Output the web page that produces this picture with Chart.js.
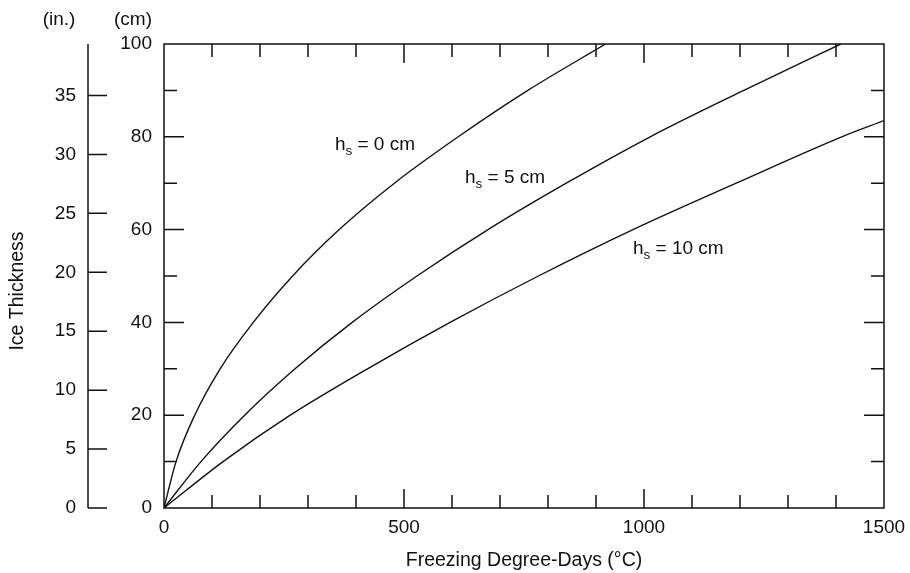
<!DOCTYPE html>
<html>
<head>
<meta charset="utf-8">
<script src="https://cdn.jsdelivr.net/npm/chart.js@4/dist/chart.umd.min.js"></script>
<style>
html,body{margin:0;padding:0;background:#fff;}
#wrap{width:910px;height:573px;position:relative;}
</style>
</head>
<body>
<div id="wrap"><canvas id="c" width="910" height="573"></canvas></div>
<script>
// ---- data ----
const snowDepths = ['0', '5', '10'];           // h_s (cm)
const fddHs0  = [0, 25, 64, 117, 186, 268, 365, 480, 613, 758, 920];
const iceHs0  = [0, 10, 20, 30, 40, 50, 60, 70, 80, 90, 100];
const fddHs5  = [0, 77, 168, 273, 392, 527, 675, 838, 1013, 1208, 1410];
const iceHs5  = [0, 10, 20, 30, 40, 50, 60, 70, 80, 90, 100];
const fddHs10 = [0, 123, 263, 424, 596, 780, 977, 1192, 1412, 1500];
const iceHs10 = [0, 10, 20, 30, 40, 50, 60, 70, 80, 83.5];
const xTickLabels = [0, 500, 1000, 1500];
const cmTickLabels = [0, 20, 40, 60, 80, 100];
const inTickLabels = [0, 5, 10, 15, 20, 25, 30, 35];

// label anchor (data coords) for curve annotations
const labelAnchorFdd = [356, 627, 977];
const labelAnchorIce = [77.2, 70.1, 54.7];

const FONT = '"Liberation Sans", Arial, Helvetica, sans-serif';
const INK = '#111';
const FS = 19;

function pts(xs, ys){ return xs.map((x,i)=>({x:x, y:ys[i]})); }

const series = [pts(fddHs0, iceHs0), pts(fddHs5, iceHs5), pts(fddHs10, iceHs10)];

const decor = {
  id: 'decor',
  afterDraw(chart){
    const {ctx, chartArea:a, scales} = chart;
    const xs = scales.x, ys = scales.y, yi = scales.yIn;
    ctx.save();
    ctx.strokeStyle = INK;
    ctx.lineWidth = 1.5;
    ctx.lineCap = 'butt';
    // frame
    ctx.strokeRect(a.left, a.top, a.right - a.left, a.bottom - a.top);
    // inch axis line
    const xi = yi.right;
    ctx.beginPath(); ctx.moveTo(xi, a.top); ctx.lineTo(xi, a.bottom); ctx.stroke();
    ctx.beginPath();
    // x ticks (bottom & top), inward
    for (let v = 100; v < 1500; v += 100){
      const px = xs.getPixelForValue(v);
      const len = (v % 500 === 0) ? 19 : 13;
      ctx.moveTo(px, a.bottom); ctx.lineTo(px, a.bottom - len);
      ctx.moveTo(px, a.top); ctx.lineTo(px, a.top + len);
    }
    // cm ticks (left & right), inward
    for (let v = 10; v < 100; v += 10){
      const py = ys.getPixelForValue(v);
      const len = (v % 20 === 0) ? 20 : 13;
      ctx.moveTo(a.left, py); ctx.lineTo(a.left + len, py);
      ctx.moveTo(a.right, py); ctx.lineTo(a.right - len, py);
    }
    // inch ticks
    inTickLabels.forEach(v=>{
      const py = yi.getPixelForValue(v);
      ctx.moveTo(xi, py); ctx.lineTo(xi + 19, py);
    });
    ctx.stroke();

    // unit labels
    ctx.fillStyle = INK;
    ctx.font = FS + 'px ' + FONT;
    ctx.textAlign = 'center';
    ctx.textBaseline = 'middle';
    ctx.fillText('(in.)', 59, 20);
    ctx.fillText('(cm)', 133, 20);

    // y title
    ctx.save();
    ctx.translate(18, 291);
    ctx.rotate(-Math.PI / 2);
    ctx.font = '19.5px ' + FONT;
    ctx.fillText('Ice Thickness', 0, 0);
    ctx.restore();

    // curve labels
    ctx.textAlign = 'left';
    ctx.textBaseline = 'alphabetic';
    snowDepths.forEach((d,i)=>{
      const px = xs.getPixelForValue(labelAnchorFdd[i]);
      const py = ys.getPixelForValue(labelAnchorIce[i]);
      ctx.font = FS + 'px ' + FONT;
      ctx.fillText('h', px, py);
      let w = ctx.measureText('h').width;
      ctx.font = '13.5px ' + FONT;
      ctx.fillText('s', px + w, py + 5);
      w += ctx.measureText('s').width;
      ctx.font = FS + 'px ' + FONT;
      ctx.fillText(' = ' + d + ' cm', px + w, py);
    });
    ctx.restore();
  }
};

new Chart(document.getElementById('c'), {
  type: 'line',
  data: {
    datasets: series.map((s,i)=>({
      label: 'h_s = ' + snowDepths[i] + ' cm',
      data: s,
      borderColor: INK,
      borderWidth: 1.4,
      pointRadius: 0,
      fill: false,
      cubicInterpolationMode: 'monotone'
    }))
  },
  options: {
    responsive: false,
    animation: false,
    devicePixelRatio: 1,
    layout: { padding: { top: 44, right: 26, left: 0, bottom: 0 } },
    plugins: { legend: { display: false }, tooltip: { enabled: false } },
    scales: {
      x: {
        type: 'linear', position: 'bottom', min: 0, max: 1500,
        afterFit(s){ s.height = 65; s.paddingRight = 0; s.paddingLeft = 0; },
        grid: { display: false, drawTicks: false },
        border: { display: false },
        ticks: {
          stepSize: 500, padding: 8, color: INK, maxRotation: 0,
          font: { size: FS, family: FONT },
          callback: v => xTickLabels.includes(v) ? String(v) : ''
        },
        title: { display: true, text: 'Freezing Degree-Days (°C)', color: INK,
                 font: { size: 19.5, family: FONT }, padding: { top: 0, bottom: 1 } }
      },
      y: {
        type: 'linear', position: 'left', min: 0, max: 100, weight: 0,
        afterFit(s){ s.width = 76; s.paddingTop = 0; s.paddingBottom = 0; },
        grid: { display: false, drawTicks: false },
        border: { display: false },
        ticks: {
          stepSize: 20, padding: 12, color: INK,
          font: { size: FS, family: FONT },
          callback: v => cmTickLabels.includes(v) ? String(v) : ''
        }
      },
      yIn: {
        type: 'linear', position: 'left', min: 0, max: 100 / 2.54, weight: 1,
        afterFit(s){ s.width = 88; s.paddingTop = 0; s.paddingBottom = 0; },
        grid: { display: false, drawTicks: false },
        border: { display: false },
        ticks: {
          stepSize: 5, padding: 12, color: INK, includeBounds: false,
          font: { size: FS, family: FONT },
          callback: v => inTickLabels.includes(v) ? String(v) : ''
        }
      }
    }
  },
  plugins: [decor]
});
</script>
</body>
</html>
